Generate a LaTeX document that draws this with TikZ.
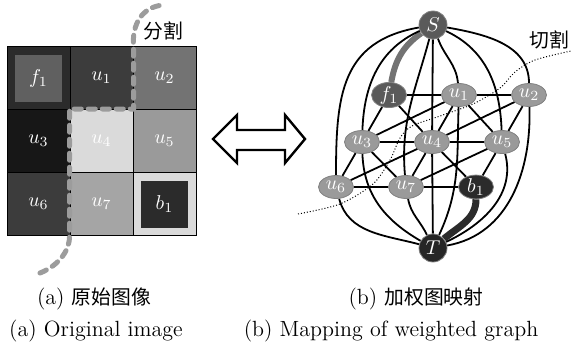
\documentclass[tikz,border=0pt]{standalone}
\usepackage{fontspec}
\newfontfamily\cjk{Noto Sans CJK SC}[Scale=0.9]
\usetikzlibrary{positioning,backgrounds,shapes.geometric}

\definecolor{pxA}{HTML}{2B2B2B}
\definecolor{pxB}{HTML}{3C3C3C}
\definecolor{pxC}{HTML}{737373}
\definecolor{pxD}{HTML}{171717}
\definecolor{pxE}{HTML}{DADADA}
\definecolor{pxF}{HTML}{9A9A9A}
\definecolor{pxG}{HTML}{A5A5A5}
\definecolor{pxH}{HTML}{606060}
\definecolor{seedS}{HTML}{5A5A5A}
\definecolor{seedT}{HTML}{262626}
\definecolor{cutgray}{HTML}{9C9C9C}

\begin{document}
\begin{tikzpicture}[x=0.5pt,y=0.5pt,node distance=35pt,
  cell/.style={draw,line width=0.5pt,minimum size=31.5pt,inner sep=0pt,text=white,font=\fontsize{10}{12}\selectfont},
  spot/.style={minimum size=23.5pt,inner sep=0pt,text=white,font=\fontsize{10}{12}\selectfont},
  main node/.style={ellipse,draw=black!50,line width=0.4pt,minimum width=17.5pt,minimum height=11.5pt,inner sep=0pt,text=white,font=\fontsize{10}{12}\selectfont},
  term node/.style={circle,draw=black!50,line width=0.4pt,minimum size=14pt,inner sep=0pt,text=white,font=\fontsize{10}{12}\selectfont},
  link/.style={line width=0.9pt},
  captext/.style={font=\fontsize{11}{13}\selectfont}]

\useasboundingbox (0,0) rectangle (571,349);

% (a) image grid
\node[cell, fill=pxA] (pf1) at (38.5,271) {};
\node[spot, fill=pxH] (pf1in) at (pf1) {$f_1$};
\node[cell, fill=pxB] (pu1) at (101.5,271) {$u_1$};
\node[cell, fill=pxC] (pu2) at (164.5,271) {$u_2$};
\node[cell, fill=pxD] (pu3) at (38.5,208) {$u_3$};
\node[cell, fill=pxE] (pu4) at (101.5,208) {$u_4$};
\node[cell, fill=pxF] (pu5) at (164.5,208) {$u_5$};
\node[cell, fill=pxB] (pu6) at (38.5,145) {$u_6$};
\node[cell, fill=pxG] (pu7) at (101.5,145) {$u_7$};
\node[cell, fill=pxE] (pb1) at (164.5,145) {};
\node[spot, fill=pxA] (pb1in) at (pb1) {$b_1$};

\draw[cutgray, line width=2.5pt, line cap=round, dash pattern=on 3.5pt off 3.5pt]
  (40,76) .. controls (60,84) and (70,100) .. (pu7.south west) -- (pu4.north west)
  -- (pu4.north east) -- (pu1.north east) .. controls (132,325) and (142,342) .. (163,344);
\node[captext] (splitlbl) at (163,318) {\cjk 分割};

% double arrow
\draw[line width=1.2pt, line join=miter] (213,210) -- (237,234) -- (237,219) -- (285,219) -- (285,234)
  -- (305,210) -- (285,186) -- (285,199) -- (237,199) -- (237,186) -- cycle;

% (b) weighted graph
\node[term node, fill=seedS] (S) at (433,324) {$S$};
\node[term node, fill=seedT] (T) at (433,101) {$T$};

\node[main node, fill=seedS] (f1) at (389,254) {$f_1$};
\node[main node, fill=pxF] (u1) [right of = f1] {$u_1$};
\node[main node, fill=pxF] (u2) [right of = u1] {$u_2$};
\node[main node, fill=pxF] (u3) at (362,207) {$u_3$};
\node[main node, fill=pxF] (u4) [right of = u3] {$u_4$};
\node[main node, fill=pxF] (u5) [right of = u4] {$u_5$};
\node[main node, fill=pxF] (u6) at (336,162) {$u_6$};
\node[main node, fill=pxF] (u7) [right of = u6] {$u_7$};
\node[main node, fill=pxA] (b1) [right of = u7] {$b_1$};

\begin{scope}[on background layer]
  % neighbour links
  \draw[link] (f1) to (u1);
  \draw[link] (u1) to (u2);
  \draw[link] (u3) to (u4);
  \draw[link] (u4) to (u5);
  \draw[link] (u6) to (u7);
  \draw[link] (u7) to (b1);
  \draw[link] (f1) to (u3);
  \draw[link] (f1) to (u4);
  \draw[link] (u1) to (u3);
  \draw[link] (u1) to (u4);
  \draw[link] (u1) to (u5);
  \draw[link] (u2) to (u4);
  \draw[link] (u2) to (u5);
  \draw[link] (u3) to (u6);
  \draw[link] (u3) to (u7);
  \draw[link] (u4) to (u6);
  \draw[link] (u4) to (u7);
  \draw[link] (u4) to (b1);
  \draw[link] (u5) to (u7);
  \draw[link] (u5) to (b1);
  % source links
  \draw[line width=3pt, color=black!55] (S) to[out=215,in=80] (f1);
  \draw[link] (S) to[out=190,in=90,looseness=1.2] (u6);
  \draw[link] (S) to[out=204,in=88] (u3);
  \draw[link] (S) to[out=255,in=95] (u7);
  \draw[link] (S) to (u4);
  \draw[link] (S) to[out=-70,in=95] (u1);
  \draw[link] (S) to[out=-25,in=92] (u5);
  \draw[link] (S) to[out=-10,in=90] (u2);
  % sink links
  \draw[link] (u6) to[out=-75,in=165] (T);
  \draw[link] (u3) to[out=-88,in=150] (T);
  \draw[link] (u7) to[out=-80,in=115] (T);
  \draw[link] (u4) to (T);
  \draw[link] (u1) to[out=-92,in=65] (T);
  \draw[link] (u5) to[out=-75,in=25] (T);
  \draw[link] (u2) to[out=-88,in=10] (T);
  \draw[line width=3.5pt, color=pxA] (b1) to[out=-90,in=40] (T);
\end{scope}

\draw[densely dotted, line width=0.5pt] plot[smooth] coordinates {(298,135) (340,145) (373,165) (390,189)
  (400,211) (412,223) (440,233) (473,245) (500,261) (515,277) (535,289) (571,298)};
\node[captext] (cutlbl) at (549,309) {\cjk 切割};

% captions
\node[captext] (capa) at (94,50) {(a) {\cjk 原始图像}};
\node[captext] (capb) at (416,50) {(b) {\cjk 加权图映射}};
\node[captext] (capae) at (96,18) {(a) Original image};
\node[captext] (capbe) at (391,18) {(b) Mapping of weighted graph};
\end{tikzpicture}
\end{document}
